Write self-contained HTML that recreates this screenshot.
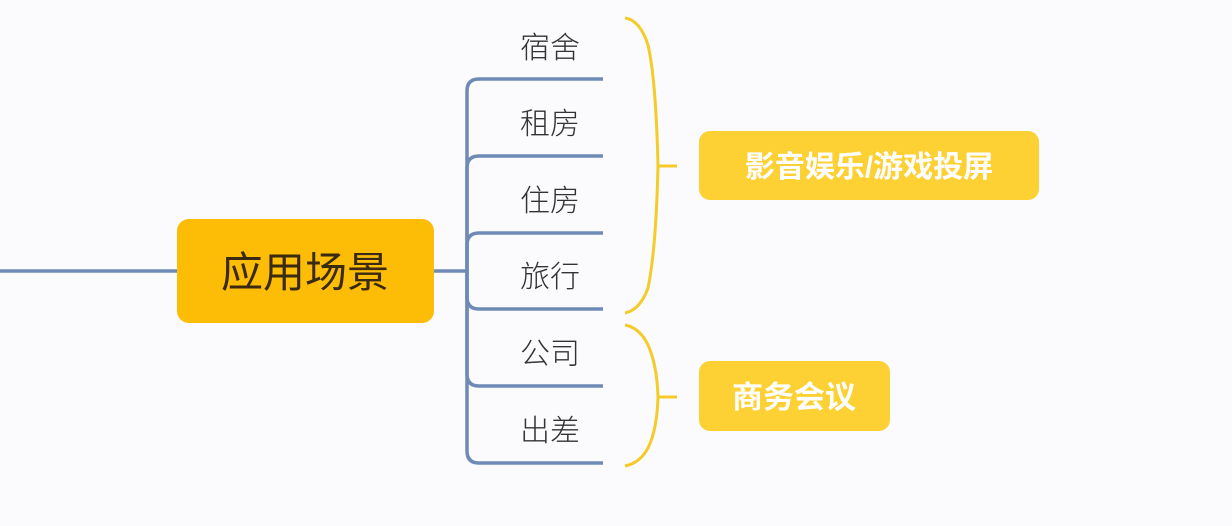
<!DOCTYPE html>
<html><head><meta charset="utf-8"><style>
html,body{margin:0;padding:0;background:#fbfbfd;}
svg{display:block}
</style></head><body>
<svg width="1232" height="526" viewBox="0 0 1232 526" xmlns="http://www.w3.org/2000/svg">
<rect width="1232" height="526" fill="#fbfbfd"/>
<g fill="none" stroke="#6f8bb5" stroke-width="3.5">
<line x1="0" y1="271" x2="178" y2="271"/>
<line x1="433" y1="271" x2="467" y2="271"/>
<path d="M467,271 V91 Q467,79 479,79 H603"/>
<path d="M467,271 V168 Q467,156 479,156 H603"/>
<path d="M467,271 V245 Q467,233 479,233 H603"/>
<path d="M467,271 V297 Q467,309 479,309 H603"/>
<path d="M467,271 V374 Q467,386 479,386 H603"/>
<path d="M467,271 V451 Q467,463 479,463 H603"/>
</g>
<g fill="none" stroke="#f5cb2a" stroke-width="3">
<path d="M625,18 Q640,20 648,45 Q656,80 658,166 Q656,250 648,288 Q640,310 625,313"/>
<line x1="658" y1="166" x2="677" y2="166"/>
<path d="M625,325 Q640,328 648,345 Q657,365 658,397 Q657,430 648,448 Q640,463 625,466"/>
<line x1="658" y1="397" x2="677" y2="397"/>
</g>
<rect x="177" y="219" width="257" height="104" rx="12" fill="#fdbc05"/>
<text x="305" y="287" text-anchor="middle" font-family="Liberation Sans, Noto Sans CJK SC, sans-serif" font-size="42" fill="#3a2a10">应用场景</text>
<g font-family="Liberation Sans, Noto Sans CJK SC, sans-serif" font-size="30" font-weight="300" fill="#333" text-anchor="middle">
<text x="550" y="58">宿舍</text>
<text x="550" y="134">租房</text>
<text x="550" y="211">住房</text>
<text x="550" y="287">旅行</text>
<text x="550" y="364">公司</text>
<text x="550" y="441">出差</text>
</g>
<rect x="699" y="131" width="340" height="69" rx="11" fill="#fdd034"/>
<text x="869" y="177" text-anchor="middle" font-family="Liberation Sans, Noto Sans CJK SC, sans-serif" font-size="30" font-weight="bold" fill="#fff">影音娱乐/游戏投屏</text>
<rect x="699" y="361" width="191" height="70" rx="11" fill="#fdd034"/>
<text x="794" y="408" text-anchor="middle" font-family="Liberation Sans, Noto Sans CJK SC, sans-serif" font-size="31" font-weight="bold" fill="#fff">商务会议</text>
</svg>
</body></html>
